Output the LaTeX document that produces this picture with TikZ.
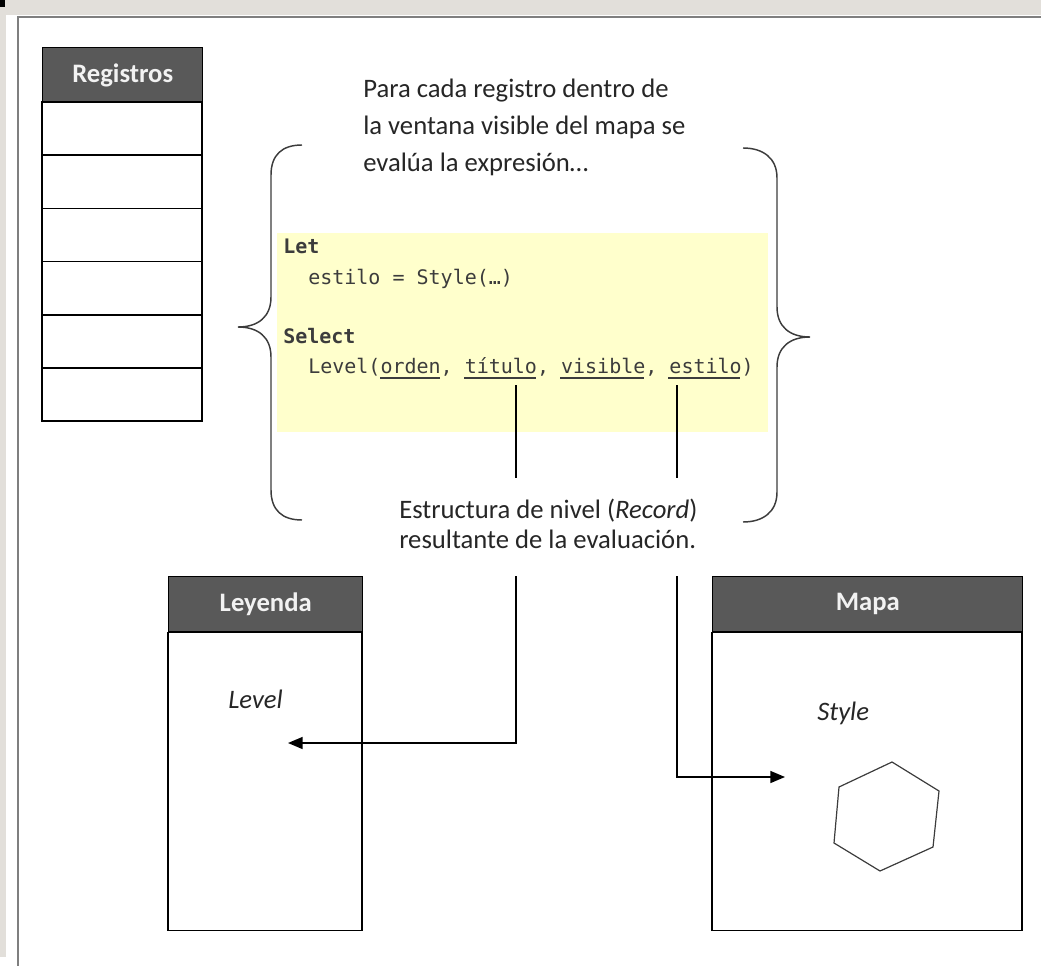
\documentclass[tikz,border=0pt]{standalone}
\usepackage{fontspec}
\setmainfont{Carlito}
\setmonofont{DejaVu Sans Mono}
\usetikzlibrary{arrows.meta}

\definecolor{hdrgray}{HTML}{595959}
\definecolor{hdrtext}{HTML}{F2F2F2}
\definecolor{codebg}{HTML}{FFFFCC}
\definecolor{codetext}{HTML}{3C3C3C}
\definecolor{bodytext}{HTML}{262626}
\definecolor{framegray}{HTML}{E2DFDA}
\definecolor{framegline}{HTML}{7F7F7F}

\begin{document}
\begin{tikzpicture}[x=0.75pt,y=-0.75pt,
  hdr/.style={draw=black,line width=1.1pt,fill=hdrgray,text=hdrtext,
    font=\fontsize{20}{24}\selectfont\bfseries,inner sep=0pt,anchor=north west,
    minimum height=41.25pt},
  box/.style={draw=black,line width=1.1pt},
  txt/.style={text=bodytext,font=\fontsize{20}{24}\selectfont,inner sep=0pt,anchor=base west},
  code/.style={text=codetext,font=\fontsize{15}{18}\selectfont\ttfamily,inner sep=0pt,anchor=base west},
  brace/.style={draw=codetext,line width=1.1pt},
  conn/.style={draw=black,line width=1.1pt},
  tip/.style={-{Triangle[length=11pt,width=9pt]}}]

\useasboundingbox (0,0) rectangle (1041,966);

% page frame
\fill[framegray] (0,0) rectangle (1041,15);
\fill[framegray] (0,0) rectangle (6,957);
\fill[black] (0,0) rectangle (5,7);
\draw[framegline,line width=1.5pt] (17,17) -- (1041,17);
\draw[framegline,line width=1.5pt] (18,17) -- (18,966);

% registros
\node[hdr,minimum width=120pt] (reg) at (42,47) {Registros};
\foreach \i in {0,...,5}
  \draw[box] (42,{102+\i*53.2}) rectangle +(160,53.2);

% expression
\node[txt] (intro1) at (363,98) {Para cada registro dentro de};
\node[txt] (intro2) at (363,135) {la ventana visible del mapa se};
\node[txt] (intro3) at (363,172) {evalúa la expresión…};

\fill[codebg] (277,233) rectangle (768,432);
\node[code,font=\fontsize{15}{18}\selectfont\ttfamily\bfseries] (let) at (283,253) {Let};
\node[code] (estilo) at (308,284) {estilo = Style(…)};
\node[code,font=\fontsize{15}{18}\selectfont\ttfamily\bfseries] (sel) at (283,343) {Select};
\node[code] (level) at (308,373) {Level(orden, título, visible, estilo)};
\foreach \a/\b in {380/440,464/536,560/644,668/740}
  \draw[codetext,line width=1.8pt] (\a,378) -- (\b,378);

% braces
\draw[brace] (302,145) .. controls (282,145) and (271,155) .. (271,175)
  -- (271,297) .. controls (271,317) and (258,327) .. (238,327)
  .. controls (258,327) and (271,337) .. (271,357)
  -- (271,490) .. controls (271,510) and (282,520) .. (302,520);
\draw[brace] (743,148) .. controls (763,148) and (777,158) .. (777,178)
  -- (777,307) .. controls (777,327) and (790,337) .. (810,337)
  .. controls (790,337) and (777,347) .. (777,367)
  -- (777,492) .. controls (777,512) and (763,522) .. (743,522);

% result
\node[txt] (res1) at (399,518) {Estructura de nivel (\textit{Record})};
\node[txt] (res2) at (399,548) {resultante de la evaluación.};

% leyenda and mapa
\node[hdr,minimum width=145.5pt] (ley) at (168,576) {Leyenda};
\draw[box] (ley.south west) rectangle ++(194,298);
\node[txt,font=\fontsize{20}{24}\selectfont\itshape] (levlab) at (228,708) {Level};

\node[hdr,minimum width=232.5pt] (map) at (712,576) {Mapa};
\draw[box] (map.south west) rectangle ++(310,298);
\node[txt,font=\fontsize{20}{24}\selectfont\itshape] (stylab) at (817,720) {Style};
\draw[codetext,line width=0.9pt] (892,762) -- (939,791) -- (933,847)
  -- (880,871) -- (834,843) -- (839,787) -- cycle;

% connectors
\coordinate (titA) at (516,385);
\coordinate (titB) at (516,478);
\coordinate (titC) at (516,576);
\coordinate (levA) at (288,743);
\coordinate (estA) at (677,385);
\coordinate (estB) at (677,478);
\coordinate (estC) at (677,576);
\coordinate (styA) at (785,777);
\draw[conn] (titA) -- (titB);
\draw[conn,tip] (titC) |- (levA);
\draw[conn] (estA) -- (estB);
\draw[conn,tip] (estC) |- (styA);

\end{tikzpicture}
\end{document}
